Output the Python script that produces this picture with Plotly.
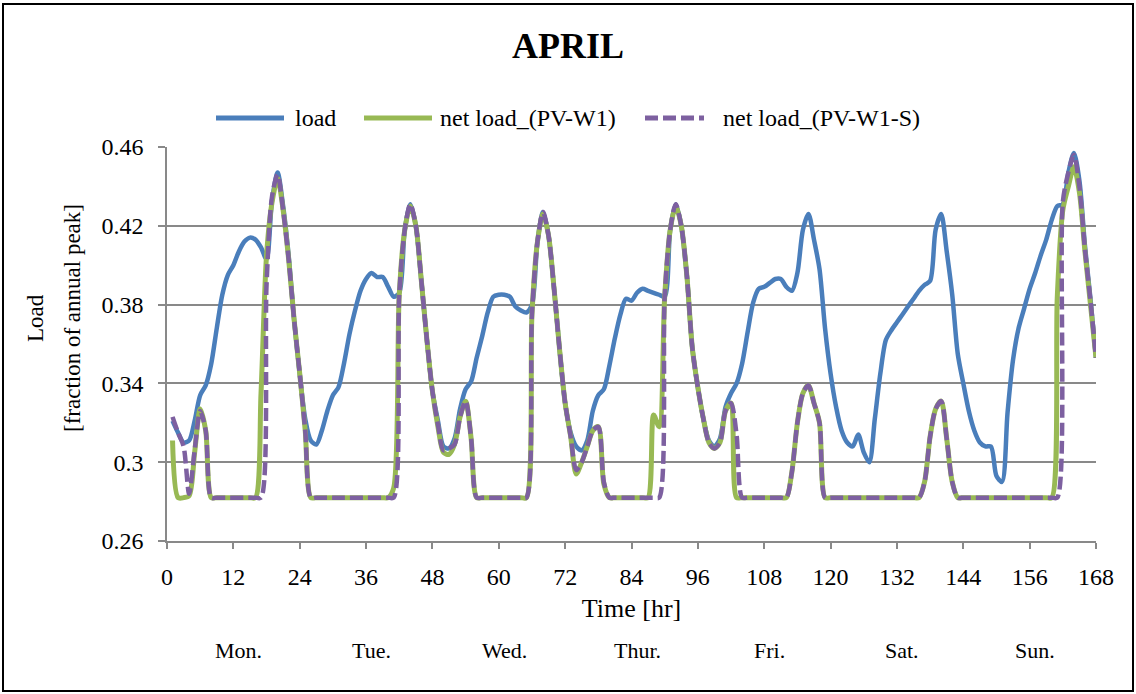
import plotly.graph_objects as go

# hourly values for one week in April (hour 1..168)
hours = list(range(1, 169))

load = [
    0.321, 0.315, 0.310, 0.311, 0.321, 0.334, 0.339, 0.350, 0.368, 0.385, 0.395, 0.400,
    0.407, 0.412, 0.414, 0.413, 0.409, 0.403, 0.433, 0.447, 0.430, 0.405, 0.372, 0.345,
    0.322, 0.311, 0.309, 0.316, 0.326, 0.334, 0.338, 0.350, 0.365, 0.377, 0.387, 0.393,
    0.396, 0.394, 0.394, 0.389, 0.384, 0.386, 0.418, 0.431, 0.420, 0.392, 0.362, 0.336,
    0.321, 0.308, 0.307, 0.312, 0.327, 0.337, 0.341, 0.353, 0.364, 0.376, 0.384, 0.385,
    0.385, 0.384, 0.379, 0.377, 0.376, 0.380, 0.412, 0.427, 0.415, 0.388, 0.357, 0.330,
    0.315, 0.308, 0.306, 0.311, 0.326, 0.334, 0.337, 0.349, 0.363, 0.375, 0.383, 0.382,
    0.386, 0.388, 0.387, 0.386, 0.385, 0.384, 0.418, 0.431, 0.420, 0.395, 0.358, 0.338,
    0.322, 0.311, 0.308, 0.312, 0.328, 0.335, 0.340, 0.350, 0.366, 0.381, 0.388, 0.389,
    0.391, 0.393, 0.393, 0.389, 0.387, 0.396, 0.418, 0.426, 0.413, 0.398, 0.368, 0.345,
    0.328, 0.316, 0.310, 0.308, 0.314, 0.305, 0.300, 0.322, 0.345, 0.362, 0.367, 0.371,
    0.375, 0.379, 0.383, 0.387, 0.390, 0.392, 0.418, 0.426, 0.407, 0.385, 0.355, 0.340,
    0.326, 0.316, 0.310, 0.308, 0.308, 0.293, 0.290, 0.325, 0.352, 0.368, 0.378, 0.388,
    0.396, 0.405, 0.413, 0.423, 0.430, 0.431, 0.447, 0.457, 0.443, 0.410, 0.383, 0.353,
]

net_pv_w1 = [
    0.311, 0.282, 0.282, 0.283, 0.305, 0.327, 0.316, 0.282, 0.282, 0.282, 0.282, 0.282,
    0.282, 0.282, 0.282, 0.282, 0.335, 0.405, 0.432, 0.444, 0.428, 0.403, 0.372, 0.345,
    0.316, 0.282, 0.282, 0.282, 0.282, 0.282, 0.282, 0.282, 0.282, 0.282, 0.282, 0.282,
    0.282, 0.282, 0.282, 0.282, 0.287, 0.385, 0.418, 0.430, 0.420, 0.392, 0.362, 0.336,
    0.318, 0.305, 0.304, 0.309, 0.323, 0.331, 0.312, 0.282, 0.282, 0.282, 0.282, 0.282,
    0.282, 0.282, 0.282, 0.282, 0.282, 0.375, 0.412, 0.426, 0.415, 0.388, 0.357, 0.330,
    0.313, 0.294, 0.300, 0.308, 0.316, 0.318, 0.289, 0.282, 0.282, 0.282, 0.282, 0.282,
    0.282, 0.282, 0.282, 0.324, 0.318, 0.384, 0.418, 0.430, 0.420, 0.395, 0.358, 0.338,
    0.322, 0.310, 0.307, 0.310, 0.326, 0.330, 0.282, 0.282, 0.282, 0.282, 0.282, 0.282,
    0.282, 0.282, 0.282, 0.282, 0.295, 0.320, 0.335, 0.339, 0.330, 0.320, 0.282, 0.282,
    0.282, 0.282, 0.282, 0.282, 0.282, 0.282, 0.282, 0.282, 0.282, 0.282, 0.282, 0.282,
    0.282, 0.282, 0.282, 0.282, 0.290, 0.313, 0.327, 0.331, 0.312, 0.290, 0.282, 0.282,
    0.282, 0.282, 0.282, 0.282, 0.282, 0.282, 0.282, 0.282, 0.282, 0.282, 0.282, 0.282,
    0.282, 0.282, 0.282, 0.282, 0.384, 0.428, 0.440, 0.450, 0.437, 0.407, 0.380, 0.353,
]

net_pv_w1_s = [
    0.323, 0.315, 0.308, 0.284, 0.306, 0.326, 0.316, 0.282, 0.282, 0.282, 0.282, 0.282,
    0.282, 0.282, 0.282, 0.282, 0.282, 0.390, 0.435, 0.446, 0.428, 0.403, 0.372, 0.345,
    0.316, 0.282, 0.282, 0.282, 0.282, 0.282, 0.282, 0.282, 0.282, 0.282, 0.282, 0.282,
    0.282, 0.282, 0.282, 0.282, 0.282, 0.385, 0.418, 0.431, 0.420, 0.392, 0.362, 0.336,
    0.319, 0.306, 0.307, 0.309, 0.323, 0.331, 0.312, 0.282, 0.282, 0.282, 0.282, 0.282,
    0.282, 0.282, 0.282, 0.282, 0.282, 0.375, 0.412, 0.427, 0.415, 0.388, 0.357, 0.330,
    0.313, 0.296, 0.300, 0.308, 0.316, 0.318, 0.290, 0.282, 0.282, 0.282, 0.282, 0.282,
    0.282, 0.282, 0.282, 0.282, 0.282, 0.384, 0.418, 0.431, 0.420, 0.395, 0.358, 0.338,
    0.322, 0.310, 0.307, 0.310, 0.326, 0.330, 0.314, 0.282, 0.282, 0.282, 0.282, 0.282,
    0.282, 0.282, 0.282, 0.282, 0.295, 0.320, 0.335, 0.339, 0.330, 0.320, 0.282, 0.282,
    0.282, 0.282, 0.282, 0.282, 0.282, 0.282, 0.282, 0.282, 0.282, 0.282, 0.282, 0.282,
    0.282, 0.282, 0.282, 0.282, 0.290, 0.313, 0.327, 0.331, 0.312, 0.290, 0.282, 0.282,
    0.282, 0.282, 0.282, 0.282, 0.282, 0.282, 0.282, 0.282, 0.282, 0.282, 0.282, 0.282,
    0.282, 0.282, 0.282, 0.282, 0.282, 0.432, 0.447, 0.456, 0.440, 0.408, 0.382, 0.353,
]

series_names = ["load", "net load_(PV-W1)", "net load_(PV-W1-S)"]
day_labels = ["Mon.", "Tue.", "Wed.", "Thur.", "Fri.", "Sat.", "Sun."]
y_title_lines = ["Load", "[fraction of annual peak]"]
y_tickvals = [0.26, 0.30, 0.34, 0.38, 0.42, 0.46]
y_ticktext = ["0.26", "0.3", "0.34", "0.38", "0.42", "0.46"]
x_tickvals = list(range(0, 169, 12))

BLUE = "#4A7EBB"
GREEN = "#98B954"
PURPLE = "#7D60A0"
GRID = "#898989"
FONT = "Liberation Serif"
DASH = "13px,5px"

# figure size and plot margins in pixels
W, H = 1136, 694
ML, MR, MT, MB = 167, 40, 147, 153
PW = W - ML - MR
PH = H - MT - MB


def px(x):  # pixel x -> paper
    return (x - ML) / PW


def py(y):  # pixel y (from top) -> paper
    return (H - MB - y) / PH


fig = go.Figure()

fig.add_trace(go.Scatter(x=hours, y=load, mode="lines", name=series_names[0],
                         line=dict(color=BLUE, width=4.5, shape="spline", smoothing=0.8)))
fig.add_trace(go.Scatter(x=hours, y=net_pv_w1, mode="lines", name=series_names[1],
                         line=dict(color=GREEN, width=5, shape="spline", smoothing=0.8)))
fig.add_trace(go.Scatter(x=hours, y=net_pv_w1_s, mode="lines", name=series_names[2],
                         line=dict(color=PURPLE, width=4.5, dash=DASH, shape="spline", smoothing=0.8)))

# legend drawn by hand to get the long Excel style samples
shapes = []
annotations = []
legend_y = py(118)
legend_items = [
    (216, 284, 293, BLUE, "solid"),
    (364, 432, 438, GREEN, "solid"),
    (645, 704, 721, PURPLE, DASH),
]
for (x0, x1, xt, col, dash), name in zip(legend_items, series_names):
    shapes.append(dict(type="line", xref="paper", yref="paper", x0=px(x0), x1=px(x1),
                       y0=legend_y, y1=legend_y, line=dict(color=col, width=5, dash=dash)))
    annotations.append(dict(text=name, xref="paper", yref="paper", x=px(xt), y=legend_y,
                            xanchor="left", yanchor="middle", showarrow=False,
                            font=dict(family=FONT, size=24, color="black")))

# two line y axis title
for xpos, line in zip((35, 72), y_title_lines):
    annotations.append(dict(text=line, xref="paper", yref="paper", x=px(xpos), y=py(318),
                            xanchor="center", yanchor="middle", textangle=-90, showarrow=False,
                            font=dict(family=FONT, size=23, color="black")))

# day names under the axis
for i, day in enumerate(day_labels):
    annotations.append(dict(text=day, xref="x", yref="paper", x=24 * i + 13, y=py(650),
                            xanchor="center", yanchor="middle", showarrow=False,
                            font=dict(family=FONT, size=22, color="black")))

# outer frame of the chart
shapes.append(dict(type="rect", xref="paper", yref="paper", x0=px(3), x1=px(1133),
                   y0=py(691), y1=py(4), line=dict(color="black", width=2), layer="above"))

fig.update_layout(
    width=W,
    height=H,
    margin=dict(l=ML, r=MR, t=MT, b=MB),
    paper_bgcolor="white",
    plot_bgcolor="white",
    showlegend=False,
    font=dict(family=FONT, color="black"),
    title=dict(text="<b>APRIL</b>", x=0.5, xref="container", y=1 - 45 / H, yref="container",
               xanchor="center", yanchor="middle", font=dict(family=FONT, size=36, color="black")),
    xaxis=dict(
        range=[0, 168],
        tickvals=x_tickvals,
        ticks="outside", ticklen=6, tickwidth=1.5, tickcolor=GRID,
        showline=True, linecolor=GRID, linewidth=1.5,
        showgrid=False, zeroline=False,
        tickfont=dict(family=FONT, size=24, color="black"),
        ticklabelstandoff=7,
        title=dict(text="Time [hr]", font=dict(family=FONT, size=26, color="black"), standoff=10),
    ),
    yaxis=dict(
        range=[0.26, 0.46],
        tickvals=y_tickvals,
        ticktext=y_ticktext,
        ticks="outside", ticklen=7, tickwidth=1.5, tickcolor=GRID,
        showline=True, linecolor=GRID, linewidth=1.5,
        showgrid=True, gridcolor=GRID, gridwidth=1.5,
        zeroline=False,
        tickfont=dict(family=FONT, size=24, color="black"),
        ticklabelstandoff=10,
    ),
    shapes=shapes,
    annotations=annotations,
)

fig.write_html("out.html", config={"displayModeBar": False},
               post_script="document.body.style.margin='0';")
